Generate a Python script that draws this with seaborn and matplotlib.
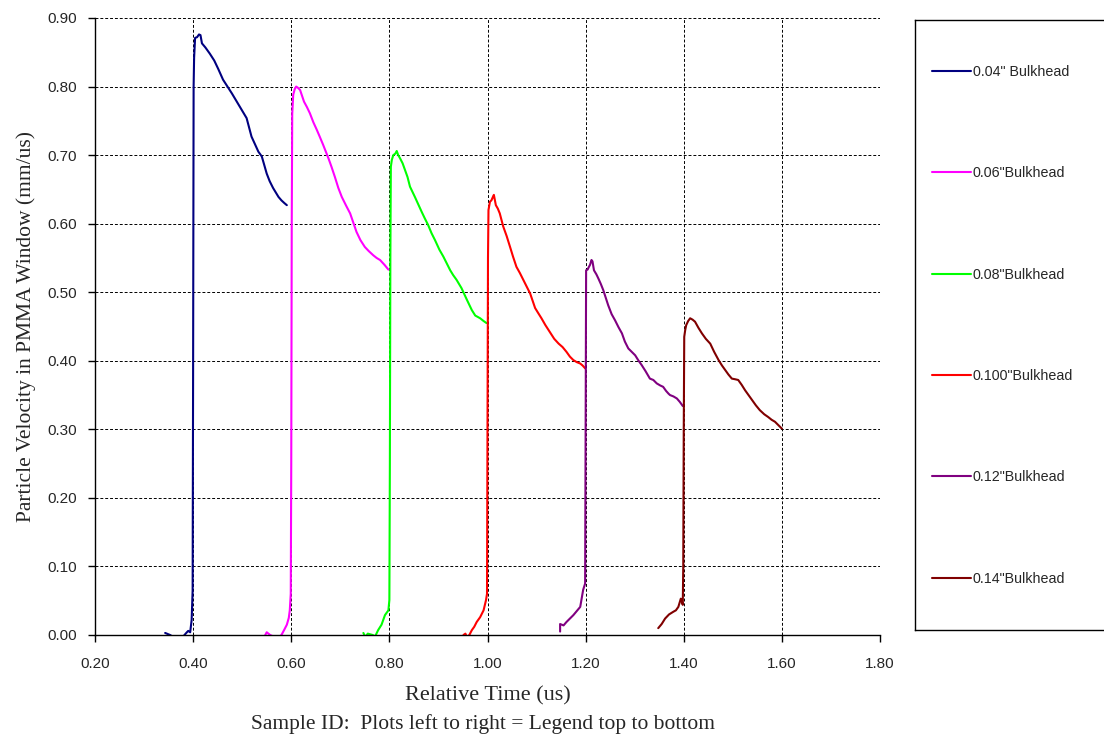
import matplotlib
matplotlib.use("Agg")
import matplotlib.pyplot as plt
import seaborn as sns
import pandas as pd
import numpy as np

# series names as in the legend
labels = ['0.04" Bulkhead', '0.06"Bulkhead', '0.08"Bulkhead',
          '0.100"Bulkhead', '0.12"Bulkhead', '0.14"Bulkhead']
colors = ['#000080', '#FF00FF', '#00FF00', '#FF0000', '#800080', '#800000']

# traces (time in us, velocity in mm/us)
t_004 = [0.343, 0.353, 0.360, 0.367, 0.374, 0.380, 0.386, 0.390, 0.394, 0.397, 0.399, 0.400, 0.401,
         0.402, 0.404, 0.408, 0.412, 0.415, 0.418, 0.425, 0.434, 0.443, 0.451, 0.461, 0.470, 0.479,
         0.489, 0.499, 0.509, 0.519, 0.526, 0.533, 0.540, 0.550, 0.556, 0.563, 0.574, 0.580, 0.586, 0.591]
v_004 = [0.003, 0.000, -0.003, -0.005, -0.003, -0.002, 0.003, 0.006, 0.004, 0.022, 0.065, 0.400, 0.800,
         0.842, 0.871, 0.872, 0.876, 0.875, 0.863, 0.857, 0.848, 0.838, 0.826, 0.810, 0.800, 0.790,
         0.778, 0.766, 0.754, 0.727, 0.716, 0.705, 0.698, 0.673, 0.662, 0.652, 0.639, 0.634, 0.630, 0.627]

t_006 = [0.547, 0.550, 0.557, 0.563, 0.570, 0.575, 0.580, 0.586, 0.591, 0.595, 0.597, 0.599, 0.600,
         0.601, 0.602, 0.604, 0.607, 0.610, 0.614, 0.618, 0.626, 0.632, 0.638, 0.645, 0.652, 0.658,
         0.665, 0.676, 0.682, 0.689, 0.696, 0.703, 0.712, 0.720, 0.733, 0.741, 0.750, 0.758, 0.767,
         0.774, 0.781, 0.790, 0.798]
v_006 = [0.000, 0.004, 0.000, -0.002, -0.006, -0.003, 0.000, 0.008, 0.015, 0.025, 0.036, 0.060, 0.250,
         0.600, 0.760, 0.788, 0.796, 0.800, 0.798, 0.795, 0.778, 0.770, 0.761, 0.748, 0.737, 0.727,
         0.715, 0.695, 0.683, 0.668, 0.652, 0.639, 0.626, 0.615, 0.588, 0.576, 0.566, 0.560, 0.554,
         0.550, 0.547, 0.540, 0.533]

t_008 = [0.747, 0.751, 0.756, 0.761, 0.766, 0.771, 0.777, 0.784, 0.791, 0.798, 0.800, 0.801, 0.802,
         0.803, 0.805, 0.808, 0.812, 0.815, 0.818, 0.822, 0.827, 0.832, 0.837, 0.842, 0.852, 0.859,
         0.866, 0.872, 0.879, 0.886, 0.893, 0.902, 0.910, 0.917, 0.924, 0.930, 0.937, 0.947, 0.958,
         0.968, 0.975, 0.985, 0.992, 0.998]
v_008 = [0.003, -0.003, 0.002, 0.001, 0.000, -0.002, 0.007, 0.015, 0.029, 0.036, 0.051, 0.250, 0.550,
         0.683, 0.693, 0.700, 0.702, 0.706, 0.700, 0.695, 0.688, 0.678, 0.668, 0.654, 0.639, 0.628,
         0.617, 0.608, 0.598, 0.586, 0.576, 0.562, 0.552, 0.542, 0.532, 0.525, 0.518, 0.506, 0.489,
         0.474, 0.466, 0.462, 0.458, 0.455]

t_0100 = [0.951, 0.955, 0.958, 0.963, 0.968, 0.973, 0.978, 0.985, 0.992, 0.997, 0.999, 1.000, 1.001,
          1.002, 1.005, 1.008, 1.011, 1.013, 1.017, 1.021, 1.025, 1.032, 1.039, 1.046, 1.052, 1.059,
          1.066, 1.073, 1.080, 1.087, 1.097, 1.103, 1.110, 1.118, 1.127, 1.136, 1.145, 1.153, 1.161,
          1.168, 1.175, 1.182, 1.189, 1.194, 1.199]
v_0100 = [0.000, 0.002, -0.003, 0.000, 0.007, 0.012, 0.019, 0.026, 0.036, 0.051, 0.060, 0.300, 0.550,
          0.620, 0.632, 0.634, 0.639, 0.642, 0.627, 0.622, 0.615, 0.596, 0.582, 0.566, 0.552, 0.537,
          0.528, 0.518, 0.508, 0.498, 0.477, 0.470, 0.462, 0.452, 0.442, 0.432, 0.425, 0.420, 0.413,
          0.406, 0.401, 0.398, 0.396, 0.393, 0.389]

t_012 = [1.148, 1.148, 1.155, 1.161, 1.168, 1.175, 1.182, 1.189, 1.195, 1.199, 1.200, 1.201, 1.204,
         1.206, 1.209, 1.212, 1.214, 1.217, 1.222, 1.226, 1.231, 1.236, 1.241, 1.246, 1.253, 1.260,
         1.267, 1.274, 1.280, 1.287, 1.294, 1.301, 1.308, 1.314, 1.322, 1.331, 1.338, 1.345, 1.352,
         1.358, 1.364, 1.369, 1.372, 1.379, 1.386, 1.392, 1.398]
v_012 = [0.005, 0.016, 0.014, 0.019, 0.024, 0.029, 0.035, 0.041, 0.066, 0.075, 0.300, 0.532, 0.533,
         0.536, 0.540, 0.547, 0.545, 0.532, 0.526, 0.520, 0.512, 0.503, 0.492, 0.481, 0.468, 0.459,
         0.449, 0.440, 0.428, 0.418, 0.413, 0.408, 0.400, 0.394, 0.385, 0.374, 0.372, 0.367, 0.364,
         0.362, 0.356, 0.352, 0.350, 0.348, 0.345, 0.340, 0.334]

t_014 = [1.348, 1.355, 1.362, 1.370, 1.379, 1.384, 1.389, 1.394, 1.398, 1.399, 1.400, 1.401, 1.403,
         1.405, 1.409, 1.413, 1.418, 1.423, 1.430, 1.437, 1.445, 1.454, 1.462, 1.471, 1.478, 1.484,
         1.491, 1.498, 1.505, 1.511, 1.518, 1.525, 1.532, 1.539, 1.547, 1.555, 1.564, 1.572, 1.579,
         1.586, 1.593, 1.600]
v_014 = [0.010, 0.016, 0.024, 0.030, 0.034, 0.036, 0.041, 0.053, 0.044, 0.100, 0.300, 0.435, 0.445,
         0.452, 0.458, 0.462, 0.460, 0.457, 0.448, 0.440, 0.432, 0.425, 0.413, 0.401, 0.393, 0.387,
         0.380, 0.374, 0.373, 0.372, 0.365, 0.357, 0.350, 0.343, 0.335, 0.328, 0.322, 0.318, 0.314,
         0.311, 0.306, 0.301]

x_ticks = [0.20, 0.40, 0.60, 0.80, 1.00, 1.20, 1.40, 1.60, 1.80]
y_ticks = [0.00, 0.10, 0.20, 0.30, 0.40, 0.50, 0.60, 0.70, 0.80, 0.90]

times = [t_004, t_006, t_008, t_0100, t_012, t_014]
vels = [v_004, v_006, v_008, v_0100, v_012, v_014]
frames = []
for lab, t, v in zip(labels, times, vels):
    d = pd.DataFrame({'time': t, 'vel': v})
    d['sample'] = lab
    frames.append(d)
df = pd.concat(frames, ignore_index=True)

sns.set_style('white')
plt.rcParams['font.family'] = ['Liberation Sans', 'DejaVu Sans']

fig = plt.figure(figsize=(11.04, 7.38), dpi=100)
ax = fig.add_axes([95/1104, 1-635/738, 785/1104, 617/738])

sns.lineplot(data=df, x='time', y='vel', hue='sample', units='sample', estimator=None,
             sort=False, palette=dict(zip(labels, colors)), hue_order=labels,
             linewidth=1.5, ax=ax)
handles, hl = ax.get_legend_handles_labels()
ax.get_legend().remove()

ax.set_xlim(0.2, 1.8)
ax.set_ylim(0.0, 0.9)
ax.set_xticks(x_ticks)
ax.set_yticks(y_ticks)
ax.set_xticklabels([f'{v:.2f}' for v in x_ticks])
ax.set_yticklabels([f'{v:.2f}' for v in y_ticks])
ax.grid(True, color='black', linestyle=(0, (3, 2)), linewidth=0.7)
for s in ['top', 'right']:
    ax.spines[s].set_visible(False)
for s in ['left', 'bottom']:
    ax.spines[s].set_color('black')
    ax.spines[s].set_linewidth(1.0)
ax.tick_params(axis='both', direction='out', length=5, width=1, color='black',
               labelsize=11, bottom=True, left=True)
ax.tick_params(axis='x', pad=11)
ax.tick_params(axis='y', pad=8)

ax.set_xlabel('Relative Time (us)', family=['Liberation Serif'], fontsize=16, labelpad=11)
ax.set_ylabel('Particle Velocity in PMMA Window (mm/us)', family=['Liberation Serif'],
              fontsize=15.5, labelpad=8)
fig.text(483/1104, 1-724/738, 'Sample ID:  Plots left to right = Legend top to bottom',
         family=['Liberation Serif'], fontsize=15.5, ha='center', va='center')

# legend box on the right
lax = fig.add_axes([915/1104, 1-630/738, 200/1104, 610/738])
lax.set_xticks([])
lax.set_yticks([])
for s in lax.spines.values():
    s.set_color('black')
    s.set_linewidth(1.0)
lax.legend(handles, hl, loc='upper left', bbox_to_anchor=(0.02, 0.947), frameon=False,
           fontsize=10.3, labelspacing=6.1, handlelength=2.7, handletextpad=0.15,
           borderaxespad=0, borderpad=0.9)

fig.savefig('out.png', dpi=100)
